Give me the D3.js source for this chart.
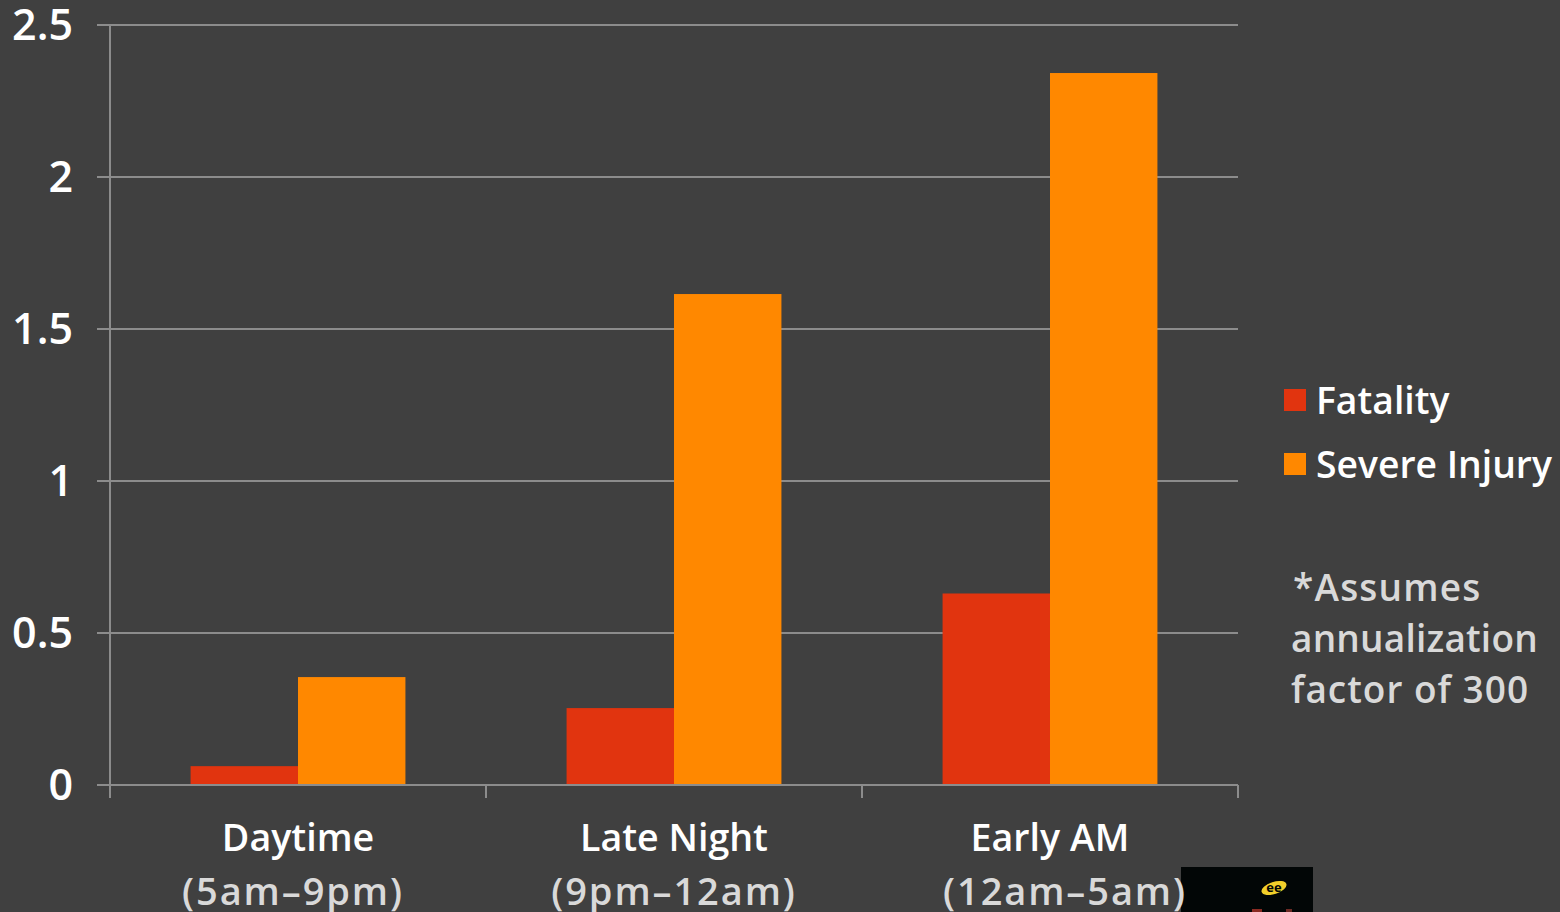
<!DOCTYPE html>
<html>
<head>
<meta charset="utf-8">
<script src="https://cdn.jsdelivr.net/npm/d3@7/dist/d3.min.js"></script>
<style>
html,body{margin:0;padding:0;background:#404040;overflow:hidden}
svg{display:block}
text{font-family:"Open Sans","Liberation Sans",sans-serif}
</style>
</head>
<body>
<svg id="chart" width="1560" height="912"></svg>
<script>
// Crash rates by time of day
const categories = ["Daytime", "Late Night", "Early AM"];
const categoryHours = ["(5am–9pm)", "(9pm–12am)", "(12am–5am)"];
const hoursOffset = [-5, 0, 15];
const seriesNames = ["Fatality", "Severe Injury"];
const fatality = [0.062, 0.253, 0.63];
const severeInjury = [0.355, 1.615, 2.342];
const yTicks = [0, 0.5, 1, 1.5, 2, 2.5];
const footnote = ["*Assumes", "annualization", "factor of 300"];
const footnoteSpacing = [1.2, 0.2, 1];

const colors = ["#e1340f", "#ff8800"];
const gridColor = "#8c8c8c";
const svg = d3.select("#chart");

const plot = {left: 110, right: 1238, top: 25, bottom: 785};
const x0 = d3.scaleBand().domain(categories).range([plot.left, plot.right]);
const x1 = d3.scaleBand().domain(seriesNames).range([0, x0.bandwidth()]).paddingInner(0).paddingOuter(0.75);
const y = d3.scaleLinear().domain([0, 2.5]).range([plot.bottom, plot.top]);

// Small logo block at the lower edge, underneath the labels
const logo = svg.append("g");
logo.append("rect").attr("x", 1181).attr("y", 867).attr("width", 132).attr("height", 45).attr("fill", "#020606");
logo.append("ellipse").attr("cx", 1274).attr("cy", 888).attr("rx", 13).attr("ry", 6)
  .attr("transform", "rotate(-18 1274 888)").attr("fill", "#f2cf2a");
logo.append("text").attr("x", 1274).attr("y", 892).attr("text-anchor", "middle")
  .attr("font-size", 13).attr("font-weight", 700).attr("fill", "#020606").text("ee");
logo.append("rect").attr("x", 1252).attr("y", 909).attr("width", 10).attr("height", 3).attr("fill", "#8a2a22");
logo.append("rect").attr("x", 1286).attr("y", 909).attr("width", 6).attr("height", 3).attr("fill", "#6e2a24");

// Horizontal gridlines, extending left of the axis as tick marks
svg.append("g").selectAll("line").data(yTicks).join("line")
  .attr("x1", plot.left - 13).attr("x2", plot.right)
  .attr("y1", d => y(d)).attr("y2", d => y(d))
  .attr("stroke", gridColor).attr("stroke-width", 2);

// Vertical axis line and category separators
svg.append("line")
  .attr("x1", plot.left).attr("x2", plot.left)
  .attr("y1", plot.top).attr("y2", plot.bottom + 13)
  .attr("stroke", gridColor).attr("stroke-width", 2);
const separators = categories.map(c => x0(c) + x0.bandwidth());
svg.append("g").selectAll("line").data(separators).join("line")
  .attr("x1", d => d).attr("x2", d => d)
  .attr("y1", plot.bottom).attr("y2", plot.bottom + 13)
  .attr("stroke", gridColor).attr("stroke-width", 2);

// Bars
[fatality, severeInjury].forEach((values, s) => {
  svg.append("g").selectAll("rect").data(values).join("rect")
    .attr("x", (d, i) => x0(categories[i]) + x1(seriesNames[s]))
    .attr("width", x1.bandwidth())
    .attr("y", d => y(d))
    .attr("height", d => y(0) - y(d) - 1)
    .attr("fill", colors[s]);
});

// Value axis labels
svg.append("g").selectAll("text").data(yTicks).join("text")
  .attr("x", 73).attr("y", d => y(d) + 15)
  .attr("text-anchor", "end")
  .attr("font-size", 43).attr("font-weight", 600)
  .attr("fill", "#ffffff")
  .text(d => d);

// Category labels, two lines each
svg.append("g").selectAll("text").data(categories).join("text")
  .attr("x", d => x0(d) + x0.bandwidth() / 2).attr("y", 851)
  .attr("text-anchor", "middle")
  .attr("font-size", 37.6).attr("font-weight", 600)
  .attr("fill", "#ffffff")
  .text(d => d);
svg.append("g").selectAll("text").data(categoryHours).join("text")
  .attr("x", (d, i) => x0(categories[i]) + x0.bandwidth() / 2 + hoursOffset[i]).attr("y", 905)
  .attr("text-anchor", "middle")
  .attr("font-size", 38).attr("font-weight", 600)
  .attr("letter-spacing", 1.9)
  .attr("fill", "#d9d9d9")
  .text(d => d);

// Legend
const legendY = [400, 464];
seriesNames.forEach((name, i) => {
  svg.append("rect").attr("x", 1284).attr("y", legendY[i] - 11)
    .attr("width", 22).attr("height", 22).attr("fill", colors[i]);
  svg.append("text").attr("x", 1316).attr("y", legendY[i] + 14)
    .attr("font-size", 37.3).attr("font-weight", 600).attr("fill", "#ffffff")
    .text(name);
});

// Footnote
svg.append("g").selectAll("text").data(footnote).join("text")
  .attr("x", (d, i) => i === 0 ? 1293 : 1291)
  .attr("y", (d, i) => 601 + i * 51)
  .attr("font-size", 37).attr("font-weight", 600).attr("fill", "#d9d9d9")
  .attr("letter-spacing", (d, i) => footnoteSpacing[i])
  .text(d => d);
</script>
</body>
</html>
